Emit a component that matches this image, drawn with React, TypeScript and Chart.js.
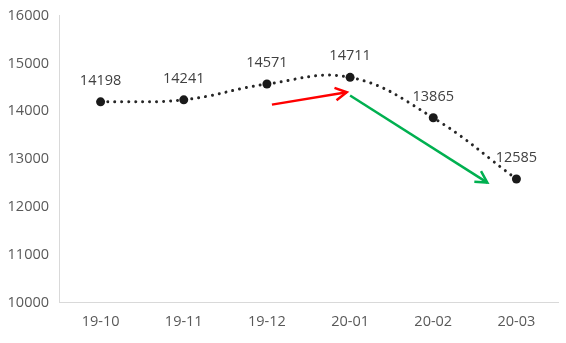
import React, { useEffect, useRef } from "react";
import { Chart, registerables } from "chart.js";

Chart.register(...registerables);

const categories = ["19-10", "19-11", "19-12", "20-01", "20-02", "20-03"];
const values = [14198, 14241, 14571, 14711, 13865, 12585];
const yTicks = [10000, 11000, 12000, 13000, 14000, 15000, 16000];

// arrows in data space: [xIndexStart, yStart, xIndexEnd, yEnd]
const redArrow = [2.06, 14140, 2.96, 14400];
const greenArrow = [3.0, 14330, 4.65, 12510];

const FONT = "'Open Sans', 'Noto Sans', sans-serif";

const overlayPlugin = {
  id: "overlay",
  afterDatasetsDraw(chart: any) {
    const ctx = chart.ctx;
    const meta = chart.getDatasetMeta(0);
    ctx.save();
    ctx.font = `14.5px ${FONT}`;
    ctx.fillStyle = "#404040";
    ctx.textAlign = "center";
    ctx.textBaseline = "bottom";
    meta.data.forEach((pt: any, i: number) => {
      ctx.fillText(String(values[i]), pt.x, pt.y - 14);
    });
    const xs = chart.scales.x;
    const ys = chart.scales.y;
    const drawArrow = (a: number[], color: string) => {
      const x1 = xs.getPixelForValue(a[0]);
      const y1 = ys.getPixelForValue(a[1]);
      const x2 = xs.getPixelForValue(a[2]);
      const y2 = ys.getPixelForValue(a[3]);
      ctx.strokeStyle = color;
      ctx.lineWidth = 2.5;
      ctx.lineCap = "butt";
      ctx.setLineDash([]);
      ctx.beginPath();
      ctx.moveTo(x1, y1);
      ctx.lineTo(x2, y2);
      ctx.stroke();
      const ang = Math.atan2(y2 - y1, x2 - x1);
      const len = 13;
      const spread = 0.5;
      ctx.beginPath();
      ctx.moveTo(x2 - len * Math.cos(ang - spread), y2 - len * Math.sin(ang - spread));
      ctx.lineTo(x2, y2);
      ctx.lineTo(x2 - len * Math.cos(ang + spread), y2 - len * Math.sin(ang + spread));
      ctx.stroke();
    };
    drawArrow(redArrow, "#ff0000");
    drawArrow(greenArrow, "#00b050");
    ctx.restore();
  },
};

export default function App() {
  const ref = useRef<HTMLCanvasElement>(null);
  useEffect(() => {
    if (!ref.current) return;
    const chart = new Chart(ref.current, {
      type: "line",
      data: {
        labels: categories,
        datasets: [
          {
            data: values,
            borderColor: "#262626",
            borderWidth: 3,
            borderDash: [0.01, 7],
            borderCapStyle: "round",
            tension: 0.4,
            pointRadius: 4.5,
            pointBackgroundColor: "#1a1a1a",
            pointBorderColor: "#1a1a1a",
            pointBorderWidth: 0,
            fill: false,
          },
        ],
      },
      options: {
        animation: false,
        responsive: true,
        maintainAspectRatio: false,
        layout: { padding: { top: 0, right: 8, bottom: 0, left: 0 } },
        plugins: {
          legend: { display: false },
          tooltip: { enabled: false },
        },
        scales: {
          x: {
            offset: true,
            grid: { display: false, drawTicks: false },
            border: { display: true, color: "#d9d9d9", width: 1 },
            ticks: {
              color: "#595959",
              font: { family: FONT, size: 14.5 },
              padding: 11,
            },
          },
          y: {
            min: 10000,
            max: 16000,
            grid: { display: false, drawTicks: false },
            border: { display: true, color: "#d9d9d9", width: 1 },
            afterFit: (s: any) => {
              s.width = 59;
            },
            afterBuildTicks: (s: any) => {
              s.ticks = yTicks.map((v) => ({ value: v }));
            },
            ticks: {
              color: "#595959",
              font: { family: FONT, size: 14.5 },
              padding: 10,
              callback: (v: any) => String(v),
            },
          },
        },
      },
      plugins: [overlayPlugin],
    });
    return () => chart.destroy();
  }, []);
  return (
    <div style={{ position: "fixed", left: 0, top: 0, width: 566, height: 343, overflow: "hidden", background: "#fff" }}>
      <div style={{ position: "absolute", left: 0, top: -3, width: 566, height: 345 }}>
        <canvas ref={ref} />
      </div>
    </div>
  );
}
